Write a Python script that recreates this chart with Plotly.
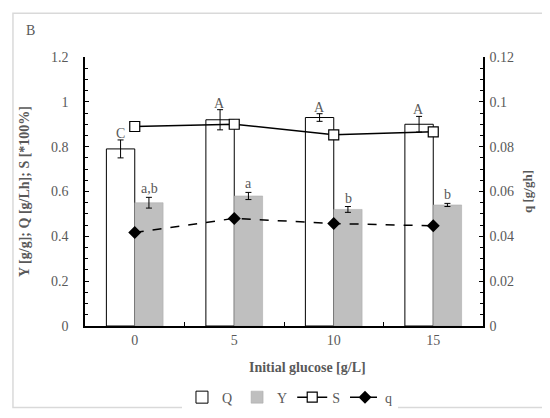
import plotly.graph_objects as go

# data
glucose = ["0", "5", "10", "15"]
Q = [0.79, 0.92, 0.93, 0.90]
Q_err = [0.04, 0.045, 0.017, 0.035]
Y = [0.55, 0.58, 0.52, 0.54]
Y_err = [0.024, 0.016, 0.013, 0.007]
S = [0.89, 0.90, 0.853, 0.866]
q = [0.0417, 0.048, 0.0457, 0.0447]
Q_letters = ["C", "A", "A", "A"]
Y_letters = ["a,b", "a", "b", "b"]

grey = "#595959"
font_name = "Liberation Serif, DejaVu Serif, serif"

fig = go.Figure()

fig.add_trace(go.Bar(
    x=glucose, y=Q, name="Q",
    marker=dict(color="white", line=dict(color="black", width=1)),
    error_y=dict(type="data", array=Q_err, color="black", thickness=1, width=3),
))
fig.add_trace(go.Bar(
    x=glucose, y=Y, name="Y",
    marker=dict(color="#bfbfbf", line=dict(color="#a6a6a6", width=0.5)),
    error_y=dict(type="data", array=Y_err, color="black", thickness=1, width=3),
))
fig.add_trace(go.Scatter(
    x=glucose, y=S, name="S", mode="lines+markers",
    line=dict(color="black", width=1.5),
    marker=dict(symbol="square", size=10, color="white", line=dict(color="black", width=1.2)),
))
fig.add_trace(go.Scatter(
    x=glucose, y=q, name="q", mode="lines+markers", yaxis="y2",
    line=dict(color="black", width=1.5, dash="dash"),
    marker=dict(symbol="diamond", size=10, color="black"),
))

# significance letters above the error bars (x given as category index)
for i in range(len(glucose)):
    fig.add_annotation(x=i, y=Q[i] + Q_err[i], text=Q_letters[i], xshift=-14.5,
                       yanchor="bottom", showarrow=False, yshift=-3,
                       font=dict(family=font_name, size=14, color=grey))
    fig.add_annotation(x=i, y=Y[i] + Y_err[i], text=Y_letters[i], xshift=14.5,
                       yanchor="bottom", showarrow=False, yshift=-1,
                       font=dict(family=font_name, size=14, color=grey))

fig.add_annotation(x=-0.138, y=1.097, xref="paper", yref="paper", text="B",
                   showarrow=False, xanchor="center", yanchor="middle",
                   font=dict(family=font_name, size=14, color=grey))

# x axis title sits a bit right of the plot centre in the original
fig.add_annotation(x=0.558, y=-0.155, xref="paper", yref="paper",
                   text="<b>Initial glucose [g/L]</b>", showarrow=False,
                   xanchor="center", yanchor="middle",
                   font=dict(family=font_name, size=14, color=grey))

# light frame around the chart
fig.add_shape(type="rect", xref="paper", yref="paper",
              x0=-0.181, x1=1.18, y0=-0.303, y1=1.163,
              line=dict(color="#d9d9d9", width=1.5))

fig.update_layout(
    width=550, height=418,
    margin=dict(l=77, r=75, t=49, b=90),
    paper_bgcolor="white", plot_bgcolor="white",
    barmode="group", bargap=0.43, bargroupgap=0,
    font=dict(family=font_name, size=14, color=grey),
    showlegend=True,
    legend=dict(orientation="h", x=0.515, xanchor="center", y=-0.266, yanchor="middle",
                font=dict(family=font_name, size=14, color=grey)),
    xaxis=dict(
        type="category", range=[-0.5, 3.5], automargin=False,
        showline=True, linecolor="black", linewidth=1.5,
        ticks="inside", tickson="boundaries", ticklen=4, tickcolor="black",
        tickfont=dict(family=font_name, size=14, color=grey),
        showgrid=False,
    ),
    yaxis=dict(
        title=dict(text="<b>Y [g/g]; Q [g/Lh]; S [*100%]</b>",
                   font=dict(family=font_name, size=14, color=grey), standoff=18),
        range=[0, 1.2], dtick=0.2, showgrid=False, zeroline=False, automargin=False,
        showline=True, linecolor="black", linewidth=1.5,
        ticks="inside", ticklen=4, tickcolor="black", ticklabelstandoff=12,
        tickfont=dict(family=font_name, size=14, color=grey),
        minor=dict(dtick=0.05, ticks="inside", ticklen=3, tickcolor="black"),
    ),
    yaxis2=dict(
        title=dict(text="<b>q [g/gh]</b>",
                   font=dict(family=font_name, size=13, color=grey), standoff=10),
        overlaying="y", side="right", automargin=False,
        range=[0, 0.12], dtick=0.02, showgrid=False, zeroline=False,
        showline=True, linecolor="black", linewidth=1.5,
        ticks="inside", ticklen=4, tickcolor="black", ticklabelstandoff=2,
        tickfont=dict(family=font_name, size=14, color=grey),
        minor=dict(dtick=0.005, ticks="inside", ticklen=3, tickcolor="black"),
    ),
)

fig.write_html("out.html")
